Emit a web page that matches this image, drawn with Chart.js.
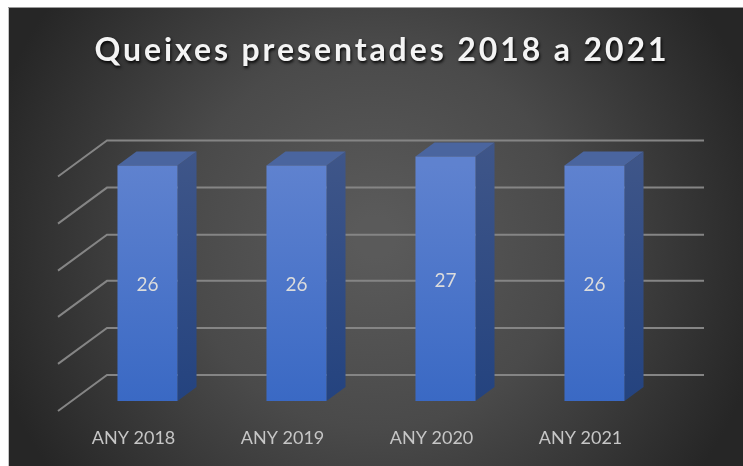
<!DOCTYPE html>
<html><head><meta charset="utf-8">
<style>html,body{margin:0;padding:0;background:#fff}canvas{display:block}</style>
<script src="https://cdn.jsdelivr.net/npm/chart.js@4"></script>
</head><body><canvas id="c" width="743" height="466"></canvas>
<script>
const categories = ["ANY 2018", "ANY 2019", "ANY 2020", "ANY 2021"];
const queixes = [26, 26, 27, 26];
const gridLevels = [0, 5.2, 10.4, 15.5, 20.7, 25.9];
const titleText = "Queixes presentades 2018 a 2021";

const DX = 19, DY = 14;            // bar depth
const GF = {x: 58, dy: 10};        // grid front end
const GB = {x: 107, dy: -26};      // grid back corner
const GR = 704;                    // grid right end

const scene = {
  id: 'scene',
  beforeDraw(chart) {
    const c = chart.ctx;
    c.save();
    c.fillStyle = '#fff'; c.fillRect(0, 0, 743, 466);
    const g = c.createRadialGradient(375, 237, 20, 375, 237, 400);
    g.addColorStop(0, '#5a5a5a');
    g.addColorStop(0.45, '#4a4a4a');
    g.addColorStop(1, '#262626');
    c.fillStyle = g; c.fillRect(8, 7, 735, 459);
    c.fillStyle = '#9a9a9a'; c.fillRect(8, 7, 735, 1);
    c.fillStyle = '#c4c4c4'; c.fillRect(8, 8, 1, 458);
    c.restore();
    const tb = chart.titleBlock;
    if (tb && !tb._wrapped) {
      const d = tb.draw;
      tb.draw = function () {
        const x = this.ctx;
        x.save();
        x.translate(11, 0);
        x.letterSpacing = '2.9px';
        x.shadowColor = 'rgba(0,0,0,0.9)';
        x.shadowBlur = 3; x.shadowOffsetX = 1; x.shadowOffsetY = 2;
        d.apply(this, arguments);
        x.restore();
      };
      tb._wrapped = true;
    }
  },
  beforeDatasetsDraw(chart) {
    const c = chart.ctx, y = chart.scales.y;
    c.save();
    c.strokeStyle = '#858585'; c.lineWidth = 2;
    gridLevels.forEach(v => {
      const p = y.getPixelForValue(v);
      c.beginPath();
      c.moveTo(GF.x, p + GF.dy);
      c.lineTo(GB.x, p + GB.dy);
      c.lineTo(GR, p + GB.dy);
      c.stroke();
    });
    c.restore();
    // side and top faces of each bar, behind the front face
    const m = chart.getDatasetMeta(0);
    m.data.forEach(b => {
      const l = b.x - b.width / 2, r = b.x + b.width / 2;
      const side = c.createLinearGradient(0, b.y - DY, 0, b.base);
      side.addColorStop(0, '#3f5689');
      side.addColorStop(1, '#24437f');
      c.fillStyle = side;
      c.beginPath();
      c.moveTo(r, b.y); c.lineTo(r + DX, b.y - DY);
      c.lineTo(r + DX, b.base - DY); c.lineTo(r, b.base);
      c.closePath(); c.fill();
      c.fillStyle = '#4a659f';
      c.beginPath();
      c.moveTo(l, b.y); c.lineTo(l + DX, b.y - DY);
      c.lineTo(r + DX, b.y - DY); c.lineTo(r, b.y);
      c.closePath(); c.fill();
    });
  },
  afterDatasetsDraw(chart) {
    const c = chart.ctx, m = chart.getDatasetMeta(0);
    c.save();
    c.fillStyle = '#dcdcdc';
    c.font = '19px Lato, "Open Sans", sans-serif';
    c.textAlign = 'center'; c.textBaseline = 'middle';
    m.data.forEach((b, i) => c.fillText(String(queixes[i]), b.x, (b.y + b.base) / 2 + 2));
    c.restore();
  }
};

new Chart(document.getElementById('c'), {
  type: 'bar',
  data: {
    labels: categories,
    datasets: [{
      data: queixes,
      barPercentage: 0.806,
      categoryPercentage: 0.5,
      backgroundColor(ctx) {
        const a = ctx.chart.chartArea;
        if (!a) return '#5079cb';
        const g = ctx.chart.ctx.createLinearGradient(0, 165, 0, 401);
        g.addColorStop(0, '#5f82cf');
        g.addColorStop(1, '#3a69c4');
        return g;
      }
    }]
  },
  options: {
    responsive: false, animation: false,
    layout: {padding: {left: 73, right: 74, top: 0, bottom: 0}},
    plugins: {
      legend: {display: false}, tooltip: {enabled: false},
      title: {
        display: true, text: titleText, color: '#f4f4f4',
        font: {family: 'Lato, "Open Sans", sans-serif', size: 32, weight: 'bold'},
        padding: {top: 31, bottom: 60}
      }
    },
    scales: {
      x: {
        grid: {display: false}, border: {display: false},
        afterFit(s) { s.height = 65; },
        ticks: {color: '#c6c6c6', font: {family: 'Lato, "Open Sans", sans-serif', size: 18}, labelOffset: -14, padding: 18, maxRotation: 0}
      },
      y: {display: false, min: 0, max: 30}
    }
  },
  plugins: [scene]
});
</script></body></html>
